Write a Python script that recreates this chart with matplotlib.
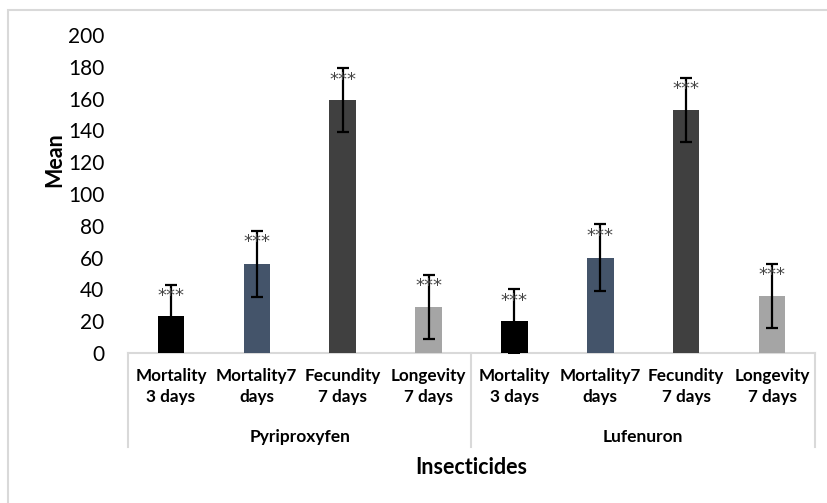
import numpy as np
import matplotlib.pyplot as plt
from matplotlib.patches import Rectangle

plt.rcParams['font.family'] = ['Lato', 'DejaVu Sans']

groups = ['Pyriproxyfen', 'Lufenuron']
measures = ['Mortality\n3 days', 'Mortality7\ndays', 'Fecundity\n7 days', 'Longevity\n7 days']
pyri_mean = [23, 56, 159, 29]
pyri_err = [20, 21, 20, 20]
lufe_mean = [20, 60, 153, 36]
lufe_err = [20, 21, 20, 20]
colors = ['#000000', '#44546A', '#404040', '#A5A5A5']

means = pyri_mean + lufe_mean
errs = pyri_err + lufe_err
labels = measures + measures
x = np.arange(len(means))

fig = plt.figure(figsize=(8.28, 5.03), dpi=100)
ax = fig.add_axes([128/828, 150/503, 687/828, 318/503])

# outer chart frame
fig.add_artist(Rectangle((8/828, -0.1), 1.0, 1 - 10/503 + 0.1, transform=fig.transFigure,
                         fill=False, edgecolor='#D9D9D9', linewidth=1.5))

ax.bar(x, means, width=0.31, color=colors * 2, zorder=2)
ax.errorbar(x, means, yerr=errs, fmt='none', ecolor='black', elinewidth=1.6,
            capsize=4.5, capthick=1.6, zorder=3)
for xi, m, e in zip(x, means, errs):
    ax.text(xi, m + e - 1.5, '***', ha='center', va='top', fontsize=13,
            color='#444444', family='DejaVu Sans', zorder=4)

ax.set_xlim(-0.5, len(means) - 0.5)
ax.set_ylim(0, 200)
ax.set_yticks(np.arange(0, 201, 20))
ax.tick_params(axis='y', length=0, pad=17, labelsize=15)
ax.set_xticks(x)
ax.set_xticklabels(labels, fontsize=12.3, fontweight='bold', linespacing=1.35)
ax.tick_params(axis='x', length=0, pad=11)
for s in ax.spines.values():
    s.set_visible(False)

# category box
box_bottom = -0.296
ax.plot([-0.5, len(means) - 0.5], [0, 0], color='#D9D9D9', lw=1.5,
        transform=ax.get_xaxis_transform(), clip_on=False, zorder=1)
for xv in [-0.5, 3.5, len(means) - 0.5]:
    ax.plot([xv, xv], [0, box_bottom], color='#D9D9D9', lw=1.5,
            transform=ax.get_xaxis_transform(), clip_on=False)
for gi, g in enumerate(groups):
    ax.text(1.5 + 4 * gi, -0.264, g, transform=ax.get_xaxis_transform(),
            ha='center', va='center', fontsize=12.5, fontweight='bold')

fig.text(471/828, 1 - 467/503, 'Insecticides', ha='center', va='center',
         fontsize=15.5, fontweight='bold')
fig.text(55/828, 1 - 160/503, 'Mean', ha='center', va='center', rotation=90,
         fontsize=15.5, fontweight='bold')

fig.savefig('out.png', dpi=100)
